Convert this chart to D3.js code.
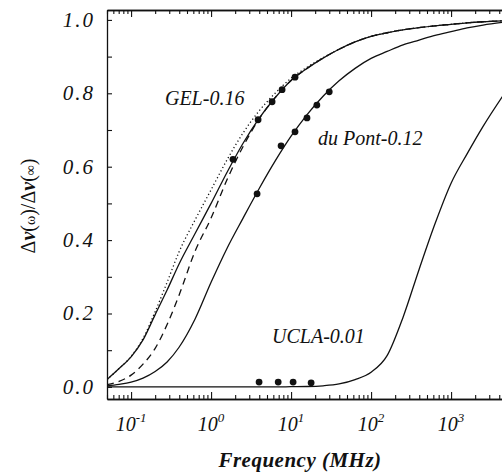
<!DOCTYPE html>
<html>
<head>
<meta charset="utf-8">
<script src="https://cdn.jsdelivr.net/npm/d3@7"></script>
<style>
  body { margin: 0; background: #fff; }
  svg { display: block; }
  text { font-family: "Liberation Serif", "Times New Roman", serif; fill: #111; }
</style>
</head>
<body>
<svg id="chart" width="502" height="474"></svg>
<script>
// Frequency grid (MHz) shared by the model curves
const freq = [0.05, 0.0708, 0.1, 0.141, 0.2, 0.282, 0.398, 0.631, 1, 1.585, 2.512, 3.981,
              6.31, 10, 15.85, 25.12, 39.81, 63.1, 100, 158.5, 251.2, 398.1, 631, 1000,
              1585, 2512, 5000];

// Normalised dispersion Δν(ω)/Δν(∞) for each model curve
const gelFit    = [0.02, 0.05, 0.082, 0.128, 0.197, 0.264, 0.335, 0.418, 0.5, 0.585, 0.664, 0.732,
                   0.788, 0.835, 0.868, 0.896, 0.92, 0.94, 0.955, 0.965, 0.973, 0.979, 0.984, 0.988,
                   0.992, 0.995, 0.998];
const gelDotted = [0.02, 0.05, 0.083, 0.132, 0.205, 0.285, 0.368, 0.455, 0.537, 0.619, 0.692, 0.752,
                   0.8, 0.841, 0.871, 0.897, 0.92, 0.94, 0.955, 0.965, 0.973, 0.979, 0.984, 0.988,
                   0.992, 0.995, 0.998];
const gelDashed = [0.006, 0.015, 0.032, 0.062, 0.105, 0.17, 0.25, 0.37, 0.46, 0.565, 0.655, 0.73,
                   0.788, 0.835, 0.868, 0.896, 0.92, 0.94, 0.955, 0.965, 0.973, 0.979, 0.984, 0.988,
                   0.992, 0.995, 0.998];
const duPontFit = [0.003, 0.007, 0.013, 0.024, 0.042, 0.068, 0.108, 0.185, 0.285, 0.378, 0.46, 0.54,
                   0.615, 0.683, 0.742, 0.792, 0.834, 0.868, 0.895, 0.914, 0.932, 0.945, 0.958, 0.968,
                   0.978, 0.986, 0.995];
const uclaFit   = [0, 0, 0, 0, 0, 0, 0, 0, 0, 0, 0, 0,
                   0, 0.0005, 0.001, 0.003, 0.008, 0.02, 0.04, 0.085, 0.19, 0.32, 0.445, 0.555,
                   0.635, 0.71, 0.81];

// Measured points
const gelFreq    = [1.88, 3.87, 5.79, 7.72, 11.2];
const gelVal     = [0.62, 0.728, 0.777, 0.81, 0.844];
const duPontFreq = [3.76, 7.5, 11.2, 15.8, 21, 30];
const duPontVal  = [0.526, 0.657, 0.695, 0.733, 0.768, 0.804];
const uclaFreq   = [3.98, 6.9, 10.6, 17.8];
const uclaVal    = [0.013, 0.013, 0.013, 0.011];

// Axis ticks and labels
const yTicks  = [0, 0.1, 0.2, 0.3, 0.4, 0.5, 0.6, 0.7, 0.8, 0.9, 1.0];
const yLabels = [0, 0.2, 0.4, 0.6, 0.8, 1.0];
const xDecades = [0.1, 1, 10, 100, 1000];
const xExponents = ["-1", "0", "1", "2", "3"];

// Curve labels, anchored at (frequency, value) of their text baseline start
const curveLabels = [
  { text: "GEL-0.16",     f: 0.265, v: 0.768 },
  { text: "du Pont-0.12", f: 21.7,  v: 0.659 },
  { text: "UCLA-0.01",    f: 5.78,  v: 0.12 }
];

const svg = d3.select("#chart");

const x = d3.scaleLog().domain([0.05, 5000]).range([107, 507]);
const y = d3.scaleLinear().domain([-0.033, 1.027]).range([399, 10]);

const allTicks = x.ticks();
const isMajor = d => Math.abs(Math.log10(d) - Math.round(Math.log10(d))) < 1e-9;
const majorX = allTicks.filter(isMajor);
const minorX = allTicks.filter(d => !isMajor(d));

function styleAxis(g) {
  g.selectAll("path.domain").attr("stroke", "#111").attr("stroke-width", 1.3);
  g.selectAll(".tick line").attr("stroke", "#111").attr("stroke-width", 1.1);
  g.selectAll(".tick text").remove();
}

// bottom and top axes: major and minor ticks pointing into the plot
svg.append("g").attr("transform", `translate(0,${y.range()[0]})`)
  .call(d3.axisBottom(x).tickValues(majorX).tickSize(-7).tickSizeOuter(0)).call(styleAxis);
svg.append("g").attr("transform", `translate(0,${y.range()[0]})`)
  .call(d3.axisBottom(x).tickValues(minorX).tickSize(-4).tickSizeOuter(0)).call(styleAxis);
svg.append("g").attr("transform", `translate(0,${y.range()[1]})`)
  .call(d3.axisTop(x).tickValues(majorX).tickSize(-7).tickSizeOuter(0)).call(styleAxis);
svg.append("g").attr("transform", `translate(0,${y.range()[1]})`)
  .call(d3.axisTop(x).tickValues(minorX).tickSize(-4).tickSizeOuter(0)).call(styleAxis);

// left and right axes
svg.append("g").attr("transform", `translate(${x.range()[0]},0)`)
  .call(d3.axisLeft(y).tickValues(yTicks).tickSize(-5).tickSizeOuter(0)).call(styleAxis);
svg.append("g").attr("transform", `translate(${x.range()[1]},0)`)
  .call(d3.axisRight(y).tickValues(yTicks).tickSize(-5).tickSizeOuter(0)).call(styleAxis);

// y tick labels
svg.append("g").selectAll("text").data(yLabels).join("text")
  .attr("x", x.range()[0] - 12)
  .attr("y", d => y(d) + 7)
  .attr("text-anchor", "end")
  .style("font-size", "21px").style("font-style", "italic").style("letter-spacing", "2px")
  .text(d => d.toFixed(1));

// x tick labels with superscript exponents
const xl = svg.append("g").selectAll("text").data(xDecades).join("text")
  .attr("x", d => x(d))
  .attr("y", 431)
  .attr("text-anchor", "middle")
  .style("font-style", "italic");
xl.append("tspan").style("font-size", "20px").text("10");
xl.append("tspan").attr("dy", -9).style("font-size", "13px").text((d, i) => xExponents[i]);

// axis titles
svg.append("text")
  .attr("x", 300).attr("y", 467)
  .attr("text-anchor", "middle")
  .style("font-size", "21px").style("font-style", "italic").style("font-weight", "bold")
  .style("letter-spacing", "0.5px")
  .text("Frequency (MHz)");

const yt = svg.append("text")
  .attr("transform", "translate(35,206) rotate(-90)")
  .attr("text-anchor", "middle")
  .style("font-size", "20px");
yt.append("tspan").text("Δ");
yt.append("tspan").style("font-style", "italic").style("font-weight", "bold").text("ν");
yt.append("tspan").text("(");
yt.append("tspan").style("font-size", "14px").text("ω");
yt.append("tspan").text(")/Δ");
yt.append("tspan").style("font-style", "italic").style("font-weight", "bold").text("ν");
yt.append("tspan").text("(");
yt.append("tspan").style("font-size", "14px").text("∞");
yt.append("tspan").text(")");

// plot clipping
svg.append("clipPath").attr("id", "plotClip").append("rect")
  .attr("x", x.range()[0]).attr("y", y.range()[1])
  .attr("width", x.range()[1] - x.range()[0]).attr("height", y.range()[0] - y.range()[1]);

const plot = svg.append("g").attr("clip-path", "url(#plotClip)");

const line = d3.line()
  .x(d => x(d[0]))
  .y(d => y(d[1]))
  .curve(d3.curveMonotoneX);

const curves = [
  { vals: gelDotted, dash: "1.2,2.6" },
  { vals: gelDashed, dash: "7,5" },
  { vals: gelFit,    dash: null },
  { vals: duPontFit, dash: null },
  { vals: uclaFit,   dash: null }
];

plot.selectAll("path.curve").data(curves).join("path")
  .attr("class", "curve")
  .attr("d", c => line(freq.map((f, i) => [f, c.vals[i]])))
  .attr("fill", "none")
  .attr("stroke", "#111")
  .attr("stroke-width", 1.3)
  .attr("stroke-dasharray", c => c.dash);

const pointSets = [
  { f: gelFreq, v: gelVal },
  { f: duPontFreq, v: duPontVal },
  { f: uclaFreq, v: uclaVal }
];
pointSets.forEach(s => {
  plot.append("g").selectAll("circle").data(s.f).join("circle")
    .attr("cx", d => x(d))
    .attr("cy", (d, i) => y(s.v[i]))
    .attr("r", 3.4)
    .attr("fill", "#111");
});

// curve labels
svg.append("g").selectAll("text").data(curveLabels).join("text")
  .attr("x", d => x(d.f))
  .attr("y", d => y(d.v))
  .style("font-size", "20px").style("font-style", "italic")
  .text(d => d.text);
</script>
</body>
</html>
